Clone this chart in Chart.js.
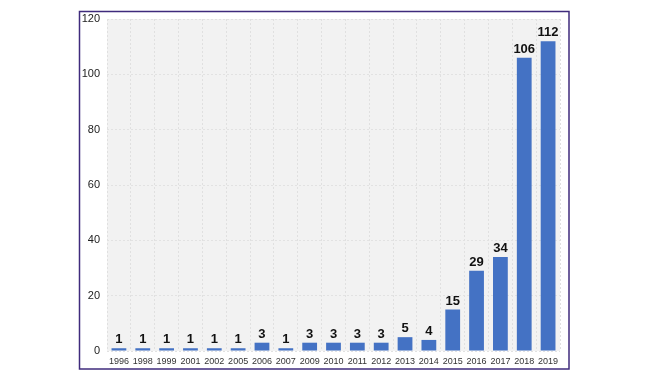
<!DOCTYPE html>
<html>
<head>
<meta charset="utf-8">
<script src="https://cdn.jsdelivr.net/npm/chart.js@4"></script>
<style>
html,body{margin:0;padding:0;background:#fff;}
#wrap{position:absolute;left:0;top:0;width:648px;height:379px;}
</style>
</head>
<body>
<div id="wrap"><canvas id="c" width="648" height="379"></canvas></div>
<script>
const categories = ['1996','1998','1999','2001','2002','2005','2006','2007','2009','2010','2011','2012','2013','2014','2015','2016','2017','2018','2019'];
const values = [1,1,1,1,1,1,3,1,3,3,3,3,5,4,15,29,34,106,112];
const yTicks = [0,20,40,60,80,100,120];

const framePlugin = {
  id: 'frame',
  beforeDraw(chart) {
    const {ctx, chartArea: a} = chart;
    ctx.save();
    ctx.fillStyle = '#fff';
    ctx.fillRect(0, 0, chart.width, chart.height);
    ctx.fillStyle = '#f2f2f2';
    ctx.fillRect(a.left, a.top, a.right - a.left, a.bottom - a.top);
    ctx.restore();
  },
  afterDraw(chart) {
    const {ctx} = chart;
    ctx.save();
    ctx.strokeStyle = '#3f2b7c';
    ctx.lineWidth = 1.5;
    ctx.strokeRect(79.5, 11.5, 489.5, 357.5);
    ctx.restore();
  }
};

const labelPlugin = {
  id: 'valueLabels',
  afterDatasetsDraw(chart) {
    const {ctx} = chart;
    const meta = chart.getDatasetMeta(0);
    ctx.save();
    ctx.font = 'bold 13px "Liberation Sans", Arial, sans-serif';
    ctx.fillStyle = '#111';
    ctx.textAlign = 'center';
    ctx.textBaseline = 'alphabetic';
    meta.data.forEach((bar, i) => {
      ctx.fillText(String(values[i]), bar.x, bar.y - 5);
    });
    ctx.restore();
  }
};

new Chart(document.getElementById('c'), {
  type: 'bar',
  data: {
    labels: categories,
    datasets: [{
      data: values,
      backgroundColor: '#4472c4',
      borderWidth: 0,
      barPercentage: 0.62,
      categoryPercentage: 1.0
    }]
  },
  options: {
    responsive: false,
    animation: false,
    devicePixelRatio: 1,
    layout: { padding: { left: 79, right: 88, top: 19, bottom: 10 } },
    plugins: { legend: { display: false }, tooltip: { enabled: false } },
    scales: {
      x: {
        grid: { display: true, color: '#e0e0e0', lineWidth: 1, drawTicks: false, offset: true },
        border: { display: false, dash: [2,2] },
        ticks: { color: '#333', font: { family: '"Liberation Sans", Arial, sans-serif', size: 9 }, padding: 5, maxRotation: 0, autoSkip: false },
        afterFit(scale) { scale.height = 18; }
      },
      y: {
        min: 0, max: 120,
        afterBuildTicks(scale) { scale.ticks = yTicks.map(v => ({value: v})); },
        grid: { color: '#e2e2e2', lineWidth: 1, drawTicks: false },
        border: { display: false, dash: [2,2] },
        ticks: { color: '#222', font: { family: '"Liberation Sans", Arial, sans-serif', size: 11 }, padding: 7 },
        afterFit(scale) { scale.width = 28; }
      }
    }
  },
  plugins: [framePlugin, labelPlugin]
});
</script>
</body>
</html>
